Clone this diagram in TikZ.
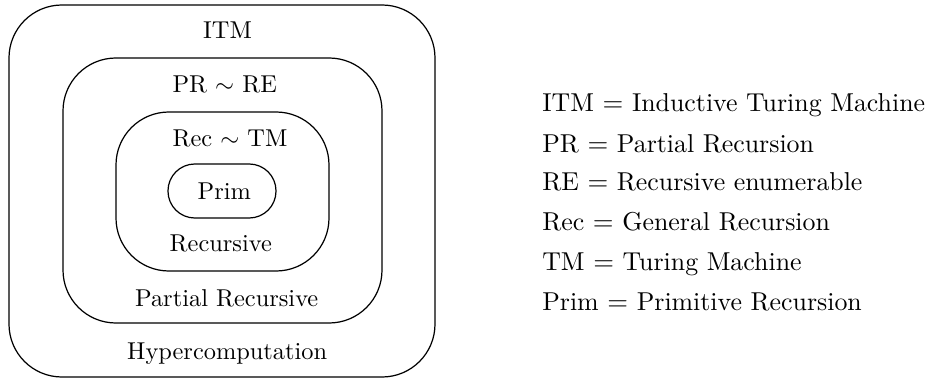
\documentclass[tikz,border=0pt]{standalone}
\usepackage{amsmath,amssymb}
\usepackage{tikz}
\def\hyperbox{(9,5) rectangle (435,377)}
\def\partialbox{(63,58) rectangle (382,323)}
\def\recbox{(116,112) rectangle (329,271)}
\def\primbox{(168,164) rectangle (276,218)}

\begin{document}
\begin{tikzpicture}[x=0.41pt,y=-0.41pt,line width=0.5pt,
    legend/.style={anchor=base west,inner sep=0pt,font=\fontsize{10.6}{12}\selectfont}]
    \useasboundingbox (0,0) rectangle (936,379);
    \draw[rounded corners=21.7pt] \hyperbox;
    \draw[rounded corners=21.7pt] \partialbox;
    \draw[rounded corners=21.7pt] \recbox;
    \draw[rounded corners=11pt] \primbox;
    \node[anchor=base] (itm) at (227.5,39) {ITM};
    \node[anchor=base] (prre) at (224.7,93) {PR $\sim$ RE};
    \node[anchor=base] (rectm) at (230,146) {Rec $\sim$ TM};
    \node[anchor=base] (prim) at (224.3,199) {Prim};
    \node[anchor=base] (recursive) at (220.8,252) {Recursive};
    \node[anchor=base] (partial) at (226.7,306) {Partial Recursive};
    \node[anchor=base] (hyper) at (227.2,359) {Hypercomputation};
    % legend
    \node[legend] (lgitm) at (541.7,112) {ITM $=$ Inductive Turing Machine};
    \node[legend] (lgpr) at (541.7,152) {PR $=$ Partial Recursion};
    \node[legend] (lgre) at (541.7,191) {RE $=$ Recursive enumerable};
    \node[legend] (lgrec) at (541.7,230) {Rec $=$ General Recursion};
    \node[legend] (lgtm) at (541.7,270) {TM $=$ Turing Machine};
    \node[legend] (lgprim) at (541.7,310) {Prim $=$ Primitive Recursion};
\end{tikzpicture}
\end{document}
